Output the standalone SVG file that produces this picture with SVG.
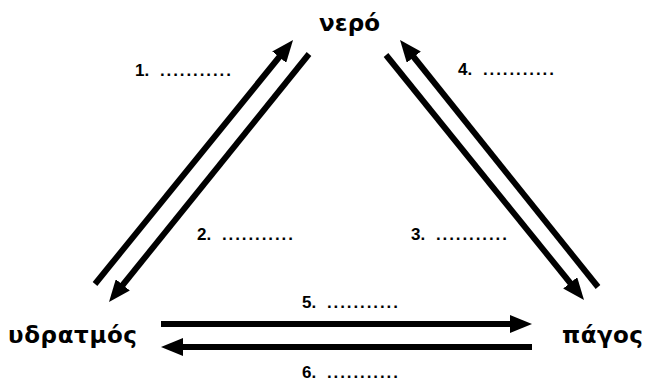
<svg xmlns="http://www.w3.org/2000/svg" width="645" height="383" viewBox="0 0 645 383">
  <style>
    .node { font-family: "DejaVu Sans", "Liberation Sans", sans-serif; font-weight: bold; font-size: 23px; fill: #000; }
    .lbl { font-family: "Liberation Sans", Arial, sans-serif; font-weight: bold; font-size: 17px; fill: #000; }
    .dots { letter-spacing: 1.9px; }
    .arr { stroke: #000; stroke-width: 6; fill: none; stroke-linecap: butt; marker-end: url(#head); }
  </style>
  <defs>
    <marker id="head" viewBox="0 0 22 18" refX="4" refY="9" markerWidth="22" markerHeight="18" markerUnits="userSpaceOnUse" orient="auto">
      <path d="M0,0 L22,9 L0,18 z" fill="#000"/>
    </marker>
  </defs>
  <rect width="645" height="383" fill="#fff"/>

  <g id="nero"><text class="node" x="319" y="31" textLength="61" lengthAdjust="spacing">νερό</text></g>
  <g id="ydratmos"><text class="node" x="8" y="343" textLength="129" lengthAdjust="spacing">υδρατμός</text></g>
  <g id="pagos"><text class="node" x="562" y="343" textLength="81" lengthAdjust="spacing">πάγος</text></g>

  <g id="connectors">
    <line class="arr" x1="95" y1="284" x2="281.7" y2="54"/>
    <line class="arr" x1="309" y1="54" x2="120.3" y2="288"/>
    <line class="arr" x1="386" y1="55" x2="572.7" y2="286"/>
    <line class="arr" x1="598" y1="287" x2="411.3" y2="54"/>
    <line class="arr" x1="161" y1="324" x2="514" y2="324"/>
    <line class="arr" x1="532" y1="347" x2="179" y2="347"/>
  </g>

  <g id="labels">
    <text class="lbl" x="135" y="76">1.<tspan class="dots" x="160">...........</tspan></text>
    <text class="lbl" x="197" y="240">2.<tspan class="dots" x="222">...........</tspan></text>
    <text class="lbl" x="411" y="240">3.<tspan class="dots" x="436">...........</tspan></text>
    <text class="lbl" x="458" y="75">4.<tspan class="dots" x="483">...........</tspan></text>
    <text class="lbl" x="302" y="308">5.<tspan class="dots" x="327">...........</tspan></text>
    <text class="lbl" x="302" y="378">6.<tspan class="dots" x="327">...........</tspan></text>
  </g>
</svg>
